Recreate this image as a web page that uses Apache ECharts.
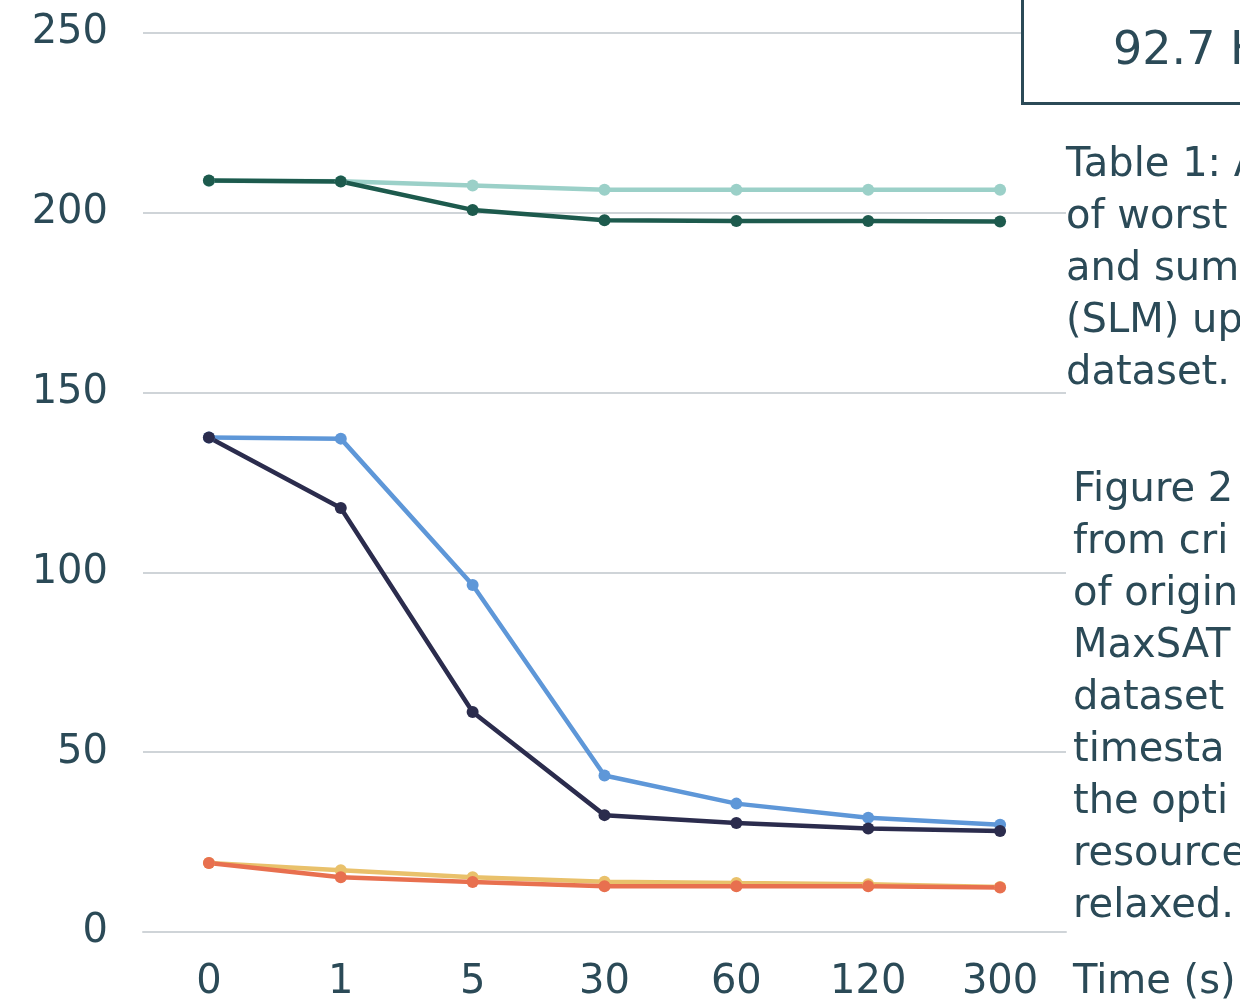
<!DOCTYPE html>
<html>
<head>
<meta charset="utf-8">
<script src="https://cdn.jsdelivr.net/npm/echarts@6/dist/echarts.min.js"></script>
<style>html,body{margin:0;padding:0;background:#fff;}#c{width:1240px;height:1006px;}</style>
</head>
<body>
<div id="c"></div>
<script>
const categories = ['0', '1', '5', '30', '60', '120', '300'];
const lightTeal = [208.9, 208.8, 207.6, 206.4, 206.4, 206.4, 206.4];
const darkGreen = [209.0, 208.7, 200.8, 197.9, 197.7, 197.7, 197.6];
const blue = [137.5, 137.2, 96.5, 43.5, 35.7, 31.8, 29.8];
const navy = [137.5, 117.9, 61.2, 32.5, 30.3, 28.8, 28.1];
const yellow = [19.2, 17.2, 15.2, 14.0, 13.6, 13.3, 12.5];
const orange = [19.2, 15.2, 13.9, 12.7, 12.7, 12.7, 12.4];
const yTicks = [0, 50, 100, 150, 200, 250];

const FONT = 'DejaVu Sans';
const TXT = '#2b4a57';
const chart = echarts.init(document.getElementById('c'));
function s(name, data, color) {
  return {
    name, type: 'line', data, symbol: 'circle', symbolSize: 12,
    lineStyle: { width: 4.5, color }, itemStyle: { color }, animation: false
  };
}
chart.setOption({
  animation: false,
  grid: { left: 143, right: 174, top: 33, bottom: 74 },
  xAxis: {
    type: 'category', data: categories, boundaryGap: true,
    axisLine: { lineStyle: { color: '#cfd4d8', width: 2 } },
    axisTick: { show: false },
    axisLabel: { color: TXT, fontFamily: FONT, fontSize: 40, margin: 31 },
    name: 'Time (s)', nameLocation: 'end', nameGap: 7,
    nameTextStyle: { color: TXT, fontFamily: FONT, fontSize: 40, align: 'left', verticalAlign: 'top', padding: [31, 0, 0, 0] }
  },
  yAxis: {
    type: 'value', min: 0, max: 250, interval: 50,
    axisLine: { show: false }, axisTick: { show: false },
    splitLine: { lineStyle: { color: '#cfd4d8', width: 2 } },
    axisLabel: { color: TXT, fontFamily: FONT, fontSize: 40, margin: 35, padding: [6, 0, 0, 0],
      formatter: v => yTicks.includes(v) ? String(v) : '' }
  },
  series: [
    s('A', lightTeal, '#9bd0c8'),
    s('B', darkGreen, '#1d5a4d'),
    s('C', blue, '#5e97d8'),
    s('D', navy, '#2b2c4d'),
    s('E', yellow, '#e9c16b'),
    s('F', orange, '#e8704f')
  ],
  graphic: [
    { type: 'rect', left: 1021, top: -10, z: 10,
      shape: { width: 300, height: 112 },
      style: { fill: '#fff', stroke: TXT, lineWidth: 3 } },
    { type: 'text', left: 1113, top: 29, z: 11,
      style: { text: '92.7 K', fill: TXT, font: '46px "DejaVu Sans"' } },
    { type: 'text', left: 1066, top: 140, z: 11,
      style: { text: 'Table 1: A\nof worst\nand sum\n(SLM) up\ndataset.', fill: TXT,
        font: '40px "DejaVu Sans"', lineHeight: 52 } },
    { type: 'text', left: 1073, top: 465, z: 11,
      style: { text: 'Figure 2\nfrom cri\nof origin\nMaxSAT\ndataset\ntimesta\nthe opti\nresource\nrelaxed.', fill: TXT,
        font: '40px "DejaVu Sans"', lineHeight: 52 } }
  ]
});
</script>
</body>
</html>
